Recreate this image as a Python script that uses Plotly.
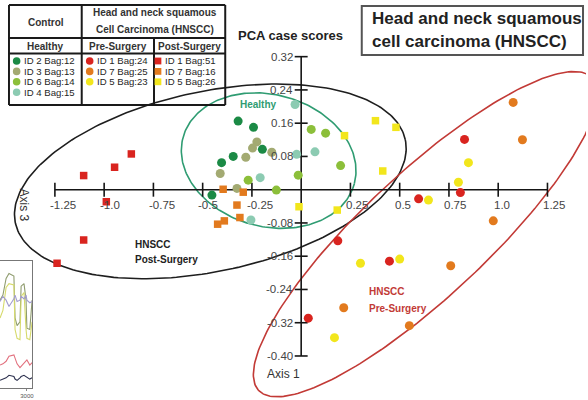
import numpy as np
import plotly.graph_objects as go

# ---------------------------------------------------------------------------
# PCA case scores (Axis 1 vs Axis 3)
# ---------------------------------------------------------------------------
# Control / Healthy (circles)
ID2_BAG12_X = [-0.320, -0.242, -0.197, -0.345, -0.404, -0.453]
ID2_BAG12_Y = [0.165, 0.150, 0.097, 0.080, 0.065, -0.013]
ID3_BAG13_X = [-0.225, -0.247, -0.149, -0.281, -0.411, -0.326]
ID3_BAG13_Y = [0.115, 0.100, 0.090, 0.078, 0.039, 0.003]
ID6_BAG14_X = [0.051, 0.124, 0.200, -0.015, -0.269, -0.126]
ID6_BAG14_Y = [0.145, 0.136, 0.058, 0.035, 0.023, -0.001]
ID4_BAG15_X = [-0.031, -0.023, 0.070, -0.208, -0.255]
ID4_BAG15_Y = [0.205, 0.085, 0.091, 0.029, -0.073]

# HNSCC Pre-Surgery (circles)
ID1_BAG24_X = [0.829, 0.596, 0.808, 0.186, 0.448, 0.036]
ID1_BAG24_Y = [0.121, -0.022, -0.007, -0.123, -0.172, -0.309]
ID7_BAG25_X = [1.076, 1.123, 0.975, 0.216, 0.549, 0.759]
ID7_BAG25_Y = [0.210, 0.120, -0.075, -0.284, -0.327, -0.183]
ID5_BAG23_X = [0.849, 0.798, 0.646, 0.301, 0.500, 0.169]
ID5_BAG23_Y = [0.065, 0.018, -0.025, -0.177, -0.167, -0.356]

# HNSCC Post-Surgery (squares)
ID1_BAG51_X = [-0.862, -0.947, -1.104, -0.989, -1.104, -1.239]
ID1_BAG51_Y = [0.086, 0.054, 0.034, -0.029, -0.121, -0.177]
ID7_BAG16_X = [-0.396, -0.294, -0.326, -0.311, -0.390, -0.424]
ID7_BAG16_Y = [0.001, -0.006, -0.037, -0.067, -0.075, -0.083]
ID5_BAG26_X = [0.220, 0.377, 0.481, 0.414, -0.011, 0.183]
ID5_BAG26_Y = [0.130, 0.166, 0.150, 0.045, -0.041, -0.049]

X_TICKS = [-1.25, -1.0, -0.75, -0.5, -0.25, 0.25, 0.5, 0.75, 1.0, 1.25]
X_TICK_LABELS = ["-1.25", "-1.0", "-0.75", "-0.5", "-0.25", "0.25", "0.5", "0.75", "1.0", "1.25"]
Y_TICKS = [0.32, 0.24, 0.16, 0.08, -0.08, -0.16, -0.24, -0.32, -0.40]
Y_TICK_LABELS = ["0.32", "0.24", "0.16", "0.08", "-0.08", "-0.16", "-0.24", "-0.32", "-0.40"]

# Neighbouring sensor-response panel (partly visible at the lower left)
SENSOR_T = [2070, 2170, 2280, 2380, 2550, 2590, 2660, 2760, 2800, 2900, 2970, 3000, 3100, 3180]
SENSOR_A = [69, 73, 86, 90, 88, 55, 49, 52, 80, 82, 69, 47, 46, 69]
SENSOR_B = [55, 61, 79, 82, 81, 46, 39, 38, 72, 75, 46, 39, 38, 52]
SENSOR_C = [68, 72, 69, 64, 70, 73, 68, 69, 72, 70, 73, 69, 67, 68]
SENSOR_D = [18, 19, 21, 25, 26, 23, 19, 16, 17, 20, 22, 22, 18, 20]
SENSOR_E = [6, 7, 8, 10, 9, 7, 6, 8, 9, 10, 9, 8, 7, 8]

# ---------------------------------------------------------------------------
W, H = 588, 400
X_RANGE = [-1.5286, 1.4456]
Y_RANGE = [-0.5059, 0.4563]
SX = W / (X_RANGE[1] - X_RANGE[0])   # pixels per x unit
SY = H / (Y_RANGE[1] - Y_RANGE[0])   # pixels per y unit
FONT = "Liberation Sans, Arial, sans-serif"

C_ID2 = "#1b8a45"
C_ID3 = "#a3aa72"
C_ID6 = "#8cbf3a"
C_ID4 = "#8ccbb2"
C_RED = "#d9241f"
C_ORANGE = "#e27a1e"
C_YELLOW = "#f2e61c"


def px(x):
    return x / W


def py(y):
    return 1 - y / H


def ellipse(cx, cy, a_px, b_px, deg, n=240):
    """Rotated ellipse outline; semi-axes in screen pixels, centre in data units."""
    t = np.linspace(0, 2 * np.pi, n)
    th = np.radians(deg)
    u = a_px * np.cos(t)
    v = b_px * np.sin(t)
    dx = (u * np.cos(th) - v * np.sin(th)) / SX
    dy = (u * np.sin(th) + v * np.cos(th)) / SY
    return cx + dx, cy + dy


fig = go.Figure()

# group ellipses
for (cx, cy, a, b, deg, col) in [
    (-0.461, 0.0200, 200, 90, 12, "#1e1e1e"),
    (-0.165, 0.070, 89, 66, -15, "#2f9c72"),
    (0.631, -0.107, 229, 62, 43, "#c23a36"),
]:
    ex, ey = ellipse(cx, cy, a, b, deg)
    fig.add_trace(go.Scatter(x=ex, y=ey, mode="lines",
                             line=dict(color=col, width=1.6),
                             hoverinfo="skip", showlegend=False))

# axes crossing at the origin
tx, ty = [], []
for v in X_TICKS:
    tx += [v, v, None]
    ty += [7 / SY, -7 / SY, None]
for v in Y_TICKS:
    tx += [-6.5 / SX, 6.5 / SX, None]
    ty += [v, v, None]
tx += [-1.25, 1.25, None, 0, 0]
ty += [0, 0, None, 0.32, -0.40]
fig.add_trace(go.Scatter(x=tx, y=ty, mode="lines",
                         line=dict(color="#151515", width=1.6),
                         hoverinfo="skip", showlegend=False))

# scores
series = [
    (ID2_BAG12_X, ID2_BAG12_Y, C_ID2, "circle", 9),
    (ID3_BAG13_X, ID3_BAG13_Y, C_ID3, "circle", 9),
    (ID6_BAG14_X, ID6_BAG14_Y, C_ID6, "circle", 9),
    (ID4_BAG15_X, ID4_BAG15_Y, C_ID4, "circle", 9),
    (ID1_BAG24_X, ID1_BAG24_Y, C_RED, "circle", 9),
    (ID7_BAG25_X, ID7_BAG25_Y, C_ORANGE, "circle", 9),
    (ID5_BAG23_X, ID5_BAG23_Y, C_YELLOW, "circle", 9),
    (ID1_BAG51_X, ID1_BAG51_Y, C_RED, "square", 7.5),
    (ID7_BAG16_X, ID7_BAG16_Y, C_ORANGE, "square", 7.5),
    (ID5_BAG26_X, ID5_BAG26_Y, C_YELLOW, "square", 7.5),
]
for xs, ys, col, sym, sz in series:
    fig.add_trace(go.Scatter(x=xs, y=ys, mode="markers",
                             marker=dict(color=col, symbol=sym, size=sz, line=dict(width=0)),
                             hoverinfo="skip", showlegend=False))

# sensor-response inset traces
for vals, col in [(SENSOR_A, "#8f9c6e"), (SENSOR_B, "#d6da6c"), (SENSOR_C, "#a29ccf"),
                  (SENSOR_D, "#e2707e"), (SENSOR_E, "#2c304e")]:
    fig.add_trace(go.Scatter(x=SENSOR_T, y=vals, mode="lines", xaxis="x2", yaxis="y2",
                             line=dict(color=col, width=1.1),
                             hoverinfo="skip", showlegend=False))

ann = []
# tick labels
for v, lab in zip(X_TICKS, X_TICK_LABELS):
    ann.append(dict(x=v, y=0, xref="x", yref="y", text=lab, showarrow=False,
                    xanchor="left", yanchor="middle", xshift=-6.5, yshift=-15.5,
                    font=dict(family=FONT, size=11.5, color="#444")))
for v, lab in zip(Y_TICKS, Y_TICK_LABELS):
    ann.append(dict(x=0, y=v, xref="x", yref="y", text=lab, showarrow=False,
                    xanchor="right", yanchor="middle", xshift=-6,
                    font=dict(family=FONT, size=11.5, color="#444")))


def text(x, y, s, size, color="#222", bold=False, anchor="center", angle=0):
    ann.append(dict(x=px(x), y=py(y), xref="paper", yref="paper",
                    text=f"<b>{s}</b>" if bold else s, showarrow=False,
                    xanchor=anchor, yanchor="middle", textangle=angle,
                    font=dict(family=FONT, size=size, color=color)))


text(291, 35, "PCA case scores", 13, "#222", True)
text(266, 374, "Axis 1", 12, "#333", anchor="left")
text(24.5, 205, "Axis 3", 12, "#333", angle=90)
text(259, 104, "Healthy", 10, "#2f9c72", True)
text(133, 244, "HNSCC", 10, "#222", True, "left")
text(133, 259.5, "Post-Surgery", 10, "#222", True, "left")
text(368, 291, "HNSCC", 10, "#c23a36", True, "left")
text(368, 308.5, "Pre-Surgery", 10, "#c23a36", True, "left")
text(371, 18.5, "Head and neck squamous", 17, "#222", True, "left")
text(371, 42, "cell carcinoma (HNSCC)", 17, "#222", True, "left")

# legend table
text(46, 22, "Control", 10, "#333", True)
text(156, 12.5, "Head and neck squamous", 10, "#333", True)
text(156, 29, "Cell Carcinoma (HNSCC)", 10, "#333", True)
text(46, 46, "Healthy", 10, "#333", True)
text(118, 46, "Pre-Surgery", 10, "#333", True)
text(190, 46, "Post-Surgery", 10, "#333", True)

shapes = []


def seg(x0, y0, x1, y1, w=2, col="#1a1a1a"):
    shapes.append(dict(type="line", xref="paper", yref="paper",
                       x0=px(x0), y0=py(y0), x1=px(x1), y1=py(y1),
                       line=dict(color=col, width=w)))


seg(9, 5, 226, 5)
seg(9, 105, 226, 105)
seg(9, 5, 9, 105)
seg(226, 5, 226, 105)
seg(82, 5, 82, 105)
seg(154.5, 38, 154.5, 105)
seg(9, 38, 226, 38)
seg(9, 53.5, 226, 53.5)

rows = [61.0, 71.4, 81.8, 92.2]
entries = [
    (16.7, 22.5, "circle", [(C_ID2, "ID 2 Bag:12"), (C_ID3, "ID 3 Bag:13"),
                            (C_ID6, "ID 6 Bag:14"), (C_ID4, "ID 4 Bag:15")]),
    (90, 95.5, "circle", [(C_RED, "ID 1 Bag:24"), (C_ORANGE, "ID 7 Bag:25"),
                          (C_YELLOW, "ID 5 Bag:23")]),
    (158.5, 163.5, "rect", [(C_RED, "ID 1 Bag:51"), (C_ORANGE, "ID 7 Bag:16"),
                            (C_YELLOW, "ID 5 Bag:26")]),
]
for mx, tx0, kind, items in entries:
    for yy, (col, lab) in zip(rows, items):
        r = 3.8 if kind == "circle" else 3.4
        shapes.append(dict(type=kind, xref="paper", yref="paper",
                           x0=px(mx - r), x1=px(mx + r), y0=py(yy - r), y1=py(yy + r),
                           fillcolor=col, line=dict(width=0)))
        text(tx0, yy, lab, 9.6, "#262626", anchor="left")

# title box
shapes.append(dict(type="rect", xref="paper", yref="paper",
                   x0=px(363), y0=py(6), x1=px(585), y1=py(55),
                   line=dict(color="#555", width=2), fillcolor="rgba(0,0,0,0)"))

fig.update_layout(
    width=W, height=H, margin=dict(l=0, r=0, t=0, b=0),
    paper_bgcolor="white", plot_bgcolor="white",
    xaxis=dict(range=X_RANGE, visible=False, domain=[0, 1]),
    yaxis=dict(range=Y_RANGE, visible=False, domain=[0, 1]),
    xaxis2=dict(domain=[0, 32.3 / W], anchor="y2", range=[2069, 3183],
                tickvals=[2000, 3000], ticktext=["2000", "3000"],
                tickfont=dict(family=FONT, size=6, color="#555"),
                ticks="outside", ticklen=2, tickcolor="#888",
                showline=True, mirror=True, linecolor="#777", linewidth=1,
                showgrid=False, zeroline=False),
    yaxis2=dict(domain=[12 / H, (H - 260.7) / H], anchor="x2", range=[0, 100],
                showticklabels=False, showline=True, mirror=True,
                linecolor="#777", linewidth=1, showgrid=False, zeroline=False),
    annotations=ann, shapes=shapes,
    showlegend=False,
)

fig.write_html("out.html")
